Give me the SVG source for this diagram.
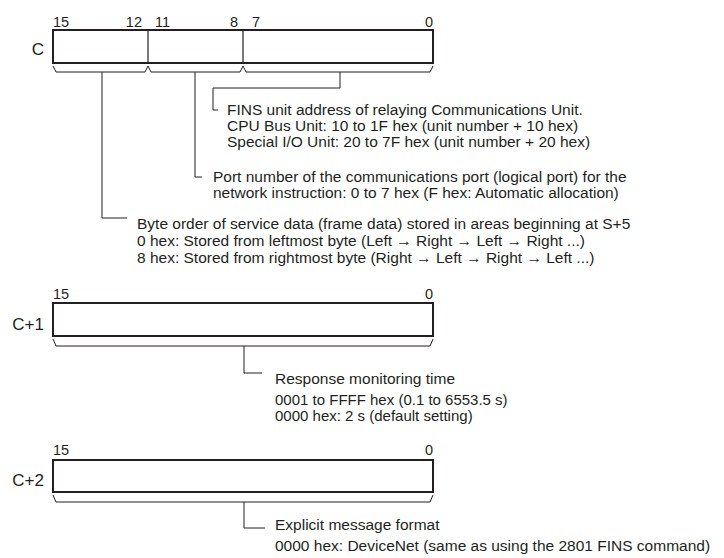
<svg xmlns="http://www.w3.org/2000/svg" width="724" height="558" viewBox="0 0 724 558">
<style>
text{font-family:"Liberation Sans",Arial,sans-serif;fill:#231f20}
.t{font-size:15.5px}
.s{font-size:15px}
.n{font-size:14.5px}
.lbl{font-size:17px;text-anchor:end}
.end{text-anchor:end}
.reg{fill:#fff;stroke:#231f20;stroke-width:2}
.div{stroke:#231f20;stroke-width:1.2;fill:none}
.ln{fill:none;stroke:#231f20;stroke-width:1}
</style>
<rect width="724" height="558" fill="#fff"/>
<g id="reg-C">
<text class="lbl" x="44" y="55">C</text>
<rect class="reg" x="53" y="30" width="380" height="33"/>
<line class="div" x1="148" y1="30" x2="148" y2="63"/>
<line class="div" x1="243" y1="30" x2="243" y2="63"/>
<text class="n" x="53" y="27">15</text>
<text class="n end" x="142" y="27">12</text>
<text class="n" x="155" y="27">11</text>
<text class="n end" x="238" y="27">8</text>
<text class="n" x="252" y="27">7</text>
<text class="n end" x="433" y="27">0</text>
</g>
<g id="reg-C1">
<text class="lbl" x="44" y="330">C+1</text>
<rect class="reg" x="53" y="303" width="380" height="33"/>
<text class="n" x="53" y="299">15</text>
<text class="n end" x="433" y="299">0</text>
</g>
<g id="reg-C2">
<text class="lbl" x="44" y="486">C+2</text>
<rect class="reg" x="53" y="460" width="380" height="32"/>
<text class="n" x="53" y="455">15</text>
<text class="n end" x="433" y="455">0</text>
</g>
<g id="connectors">
<path class="ln" d="M53,66 L56,72 H145 L148,66 L151,72 H240 L243,66 L246,72 H430 L433,66"/>
<path class="ln" d="M340,72 V88 H213 V110 H218"/>
<path class="ln" d="M195,72 V177 H202"/>
<path class="ln" d="M102,72 V218 H127"/>
<path class="ln" d="M53,339 L56,346 H430 L433,339"/>
<path class="ln" d="M244,346 V373 H262"/>
<path class="ln" d="M53,495 L56,502 H430 L433,495"/>
<path class="ln" d="M244,502 V528 H265"/>
</g>
<g id="desc-fins">
<text class="t" x="227" y="115">FINS unit address of relaying Communications Unit.</text>
<text class="t" x="227" y="131">CPU Bus Unit: 10 to 1F hex (unit number + 10 hex)</text>
<text class="t" x="227" y="147">Special I/O Unit: 20 to 7F hex (unit number + 20 hex)</text>
</g>
<g id="desc-port">
<text class="t" x="213" y="182">Port number of the communications port (logical port) for the</text>
<text class="t" x="213" y="198">network instruction: 0 to 7 hex (F hex: Automatic allocation)</text>
</g>
<g id="desc-byte">
<text class="t" x="137" y="229">Byte order of service data (frame data) stored in areas beginning at S+5</text>
<text class="t" x="137" y="246">0 hex: Stored from leftmost byte (Left → Right → Left → Right ...)</text>
<text class="t" x="137" y="263">8 hex: Stored from rightmost byte (Right → Left → Right → Left ...)</text>
</g>
<g id="desc-response">
<text class="t" x="275" y="384">Response monitoring time</text>
<text class="s" x="275" y="405">0001 to FFFF hex (0.1 to 6553.5 s)</text>
<text class="s" x="275" y="421">0000 hex: 2 s (default setting)</text>
</g>
<g id="desc-explicit">
<text class="t" x="275" y="530">Explicit message format</text>
<text class="t" x="275" y="551">0000 hex: DeviceNet (same as using the 2801 FINS command)</text>
</g>
</svg>
